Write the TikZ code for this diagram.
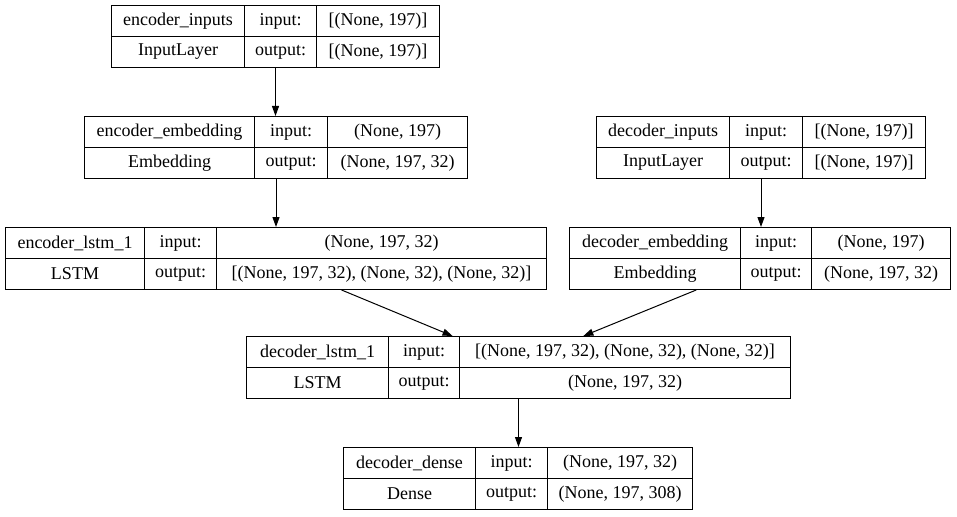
\documentclass[tikz,border=0pt]{standalone}
\usepackage{fontspec}
\setmainfont{Liberation Serif}
\usetikzlibrary{arrows.meta,calc}

\tikzset{
  cell/.style={draw, line width=1pt, inner sep=0pt, minimum height=31pt,
    anchor=north west, font=\fontsize{18}{20}\selectfont},
  flow/.style={-{Triangle[length=10pt,width=7pt]}, line width=1pt},
}

\begin{document}
\begin{tikzpicture}[x=1pt,y=-1pt]
  \fill[white] (0,0) rectangle (957,516);
  % one record per layer: id / left, two dividers, right / top / texts
  \foreach \id/\l/\a/\b/\r/\t/\nm/\ty/\ishape/\oshape in {
      encin/111/244/316/439/5/encoder\_inputs/InputLayer/{[(None, 197)]}/{[(None, 197)]},
      encemb/84/254/327/467/116/encoder\_embedding/Embedding/{(None, 197)}/{(None, 197, 32)},
      decin/596/729/802/925/116/decoder\_inputs/InputLayer/{[(None, 197)]}/{[(None, 197)]},
      enclstm/5/144/216/546/227/encoder\_lstm\_1/LSTM/{(None, 197, 32)}/{[(None, 197, 32), (None, 32), (None, 32)]},
      decemb/569/740/811/950/227/decoder\_embedding/Embedding/{(None, 197)}/{(None, 197, 32)},
      declstm/246/388/459/790/336/decoder\_lstm\_1/LSTM/{[(None, 197, 32), (None, 32), (None, 32)]}/{(None, 197, 32)},
      decdense/343/475/547/692/447/decoder\_dense/Dense/{(None, 197, 32)}/{(None, 197, 308)}%
  }{
    \node[cell, minimum width=\r pt-\l pt, minimum height=62pt] (\id) at (\l,\t) {};
    \node[cell, minimum width=\a pt-\l pt] (\id-n) at (\l,\t) {\nm};
    \node[cell, minimum width=\a pt-\l pt] (\id-t) at (\l,\t+31) {\ty};
    \node[cell, minimum width=\b pt-\a pt] (\id-il) at (\a,\t) {input:};
    \node[cell, minimum width=\b pt-\a pt] (\id-ol) at (\a,\t+31) {output:};
    \node[cell, minimum width=\r pt-\b pt] (\id-is) at (\b,\t) {\ishape};
    \node[cell, minimum width=\r pt-\b pt] (\id-os) at (\b,\t+31) {\oshape};
  }

  \draw[flow] (encin.south) -- (encin.south |- encemb.north);
  \draw[flow] (encemb.south) -- (encemb.south |- enclstm.north);
  \draw[flow] (decin.south) -- (decin.south |- decemb.north);
  \draw[flow] ($(enclstm.south west)!0.621!(enclstm.south east)$)
    -- ($(declstm.north west)!0.379!(declstm.north east)$);
  \draw[flow] ($(decemb.south west)!0.333!(decemb.south east)$)
    -- ($(declstm.north west)!0.619!(declstm.north east)$);
  \draw[flow] (declstm.south) -- (declstm.south |- decdense.north);
\end{tikzpicture}
\end{document}
